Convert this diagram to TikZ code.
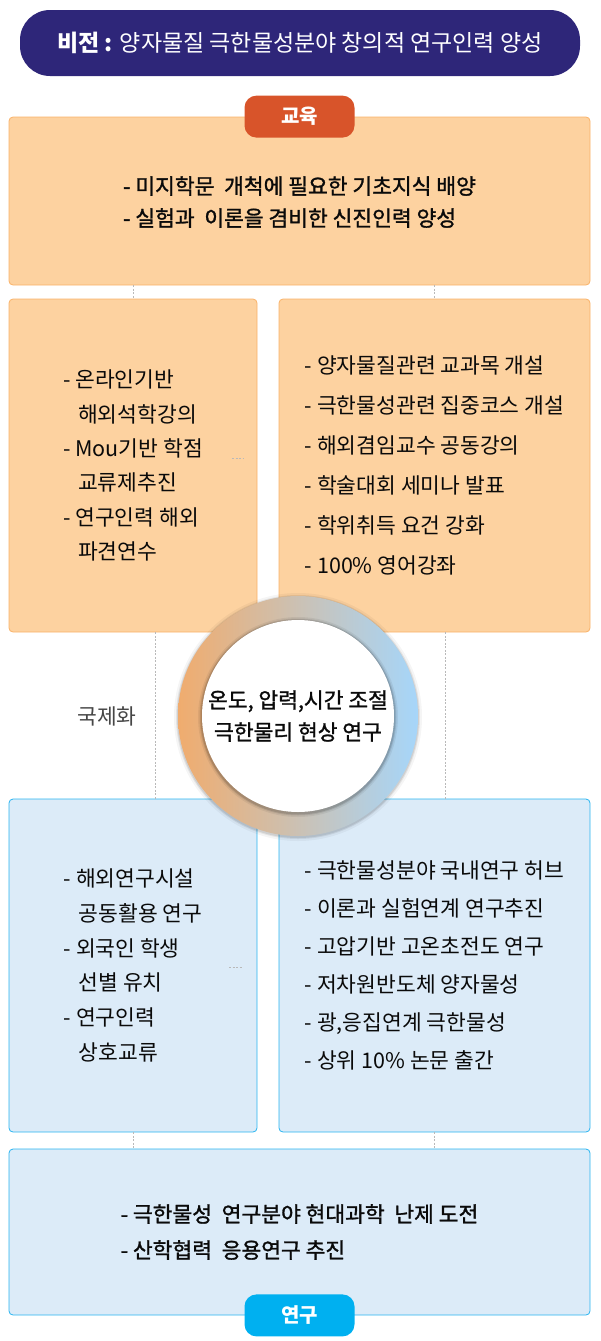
\documentclass[tikz,border=0pt]{standalone}
\usepackage{fontspec}
\setmainfont{Noto Sans CJK KR}
\newfontfamily\krmedium[FakeBold=1.3]{Noto Sans CJK KR}
\usetikzlibrary{calc}

\definecolor{visionnavy}{RGB}{46,38,121}
\definecolor{edutag}{RGB}{216,84,42}
\definecolor{restag}{RGB}{0,176,240}
\definecolor{orangefill}{RGB}{253,210,160}
\definecolor{orangeline}{RGB}{250,178,104}
\definecolor{bluefill}{RGB}{220,235,248}
\definecolor{blueline}{RGB}{40,180,240}
\definecolor{ringleft}{RGB}{240,172,110}
\definecolor{ringright}{RGB}{166,214,250}
\definecolor{linkgray}{RGB}{185,185,185}
\definecolor{bodytext}{RGB}{10,10,10}

\tikzset{
    eduboxes/.style={draw=orangeline, fill=orangefill, rounded corners=4pt,
        line width=0.8pt, inner sep=0pt, align=left, text=bodytext},
    resboxes/.style={draw=blueline, fill=bluefill, rounded corners=4pt,
        line width=0.8pt, inner sep=0pt, align=left, text=bodytext},
    tagbox/.style={rounded corners=12pt, minimum width=110pt, minimum height=42pt,
        inner sep=0pt, text=white, font=\fontsize{20}{24}\selectfont\bfseries},
    link/.style={draw=linkgray, line width=0.9pt, dash pattern=on 2pt off 1.5pt},
}

\begin{document}
\begin{tikzpicture}[x=1pt, y=-1pt]
    % the frame
    \useasboundingbox (0,0) rectangle (600,1341);

    % the vision banner
    \node[fill=visionnavy, rounded corners=30pt, minimum width=560pt, minimum height=66pt,
        inner sep=0pt, text=white, font=\fontsize{23}{24}\selectfont] (vision) at (300,43)
        {\textbf{비전 :} 양자물질 극한물성분야 창의적 연구인력 양성};

    % the boxes
    \node[eduboxes, minimum width=581pt, minimum height=168pt,
        font=\fontsize{21.5}{32}\selectfont\krmedium] (edu) at (299.5,201)
        {\rule{0pt}{20pt}- 미지학문\ \ 개척에 필요한 기초지식 배양\\
         - 실험과\ \ 이론을 겸비한 신진인력 양성};
    \node[eduboxes, minimum width=248pt, minimum height=333pt,
        font=\fontsize{21.5}{34.3}\selectfont] (eduL) at (133,465.5)
        {- 온라인기반\\
         \hspace*{15pt}해외석학강의\\
         - Mou기반 학점\\
         \hspace*{15pt}교류제추진\\
         - 연구인력 해외\\
         \hspace*{15pt}파견연수};
    \node[eduboxes, minimum width=311pt, minimum height=333pt,
        font=\fontsize{21.5}{40}\selectfont] (eduR) at (434.5,465.5)
        {- 양자물질관련 교과목 개설\\
         - 극한물성관련 집중코스 개설\\
         - 해외겸임교수 공동강의\\
         - 학술대회 세미나 발표\\
         - 학위취득 요건 강화\\
         - 100\% 영어강좌};
    \node[resboxes, minimum width=248pt, minimum height=333pt,
        font=\fontsize{21.5}{34.8}\selectfont] (resL) at (133,965.5)
        {- 해외연구시설\\
         \hspace*{15pt}공동활용 연구\\
         - 외국인 학생\\
         \hspace*{15pt}선별 유치\\
         - 연구인력\\
         \hspace*{15pt}상호교류};
    \node[resboxes, minimum width=311pt, minimum height=333pt,
        font=\fontsize{21.5}{38}\selectfont] (resR) at (434.5,965.5)
        {- 극한물성분야 국내연구 허브\\
         - 이론과 실험연계 연구추진\\
         - 고압기반 고온초전도 연구\\
         - 저차원반도체 양자물성\\
         - 광,응집연계 극한물성\\
         - 상위 10\% 논문 출간};
    \node[resboxes, minimum width=581pt, minimum height=166pt,
        font=\fontsize{21.5}{36}\selectfont\krmedium] (res) at (299.5,1232)
        {- 극한물성\ \ 연구분야 현대과학\ \ 난제 도전\\
         - 산학협력\ \ 응용연구 추진};

    % the links
    \draw[link] (edu.south -| eduL.north) -- (eduL.north);
    \draw[link] (edu.south -| eduR.north) -- (eduR.north);
    \draw[link] ([xshift=22pt]eduL.south) -- ([xshift=22pt]resL.north);
    \draw[link] ([xshift=10.5pt]eduR.south) -- ([xshift=10.5pt]resR.north);
    \draw[link] (resL.south) -- (resL.south |- res.north);
    \draw[link] (resR.south) -- (resR.south |- res.north);
    \draw[link, line width=0.6pt] (232,458) -- (244,458);
    \draw[link, line width=0.6pt] (229,967) -- (242,967);

    % the tags
    \node[tagbox, fill=edutag] (edutag) at (edu.north) {교육};
    \node[tagbox, fill=restag] (restag) at (res.south) {연구};

    % side label
    \node[text={rgb,255:red,70;green,70;blue,70}, font=\fontsize{21.5}{24}\selectfont]
        (intl) at (107,716) {국제화};

    % the ring
    \foreach \r/\o in {124/0.04,122/0.07,121/0.09} {
        \fill[black, opacity=\o] (298,717) circle (\r);
    };
    \shade[left color=ringleft, right color=ringright] (298,716) circle (120);
    \foreach \r/\o in {100/0.06,98.5/0.09,97.5/0.12} {
        \fill[black, opacity=\o] (298,717) circle (\r);
    };
    \node[circle, fill=white, minimum size=192pt, inner sep=0pt, align=center,
        text=bodytext, font=\fontsize{21.5}{32}\selectfont\krmedium] (core) at (298,716)
        {온도, 압력,시간 조절\\극한물리 현상 연구};
\end{tikzpicture}
\end{document}
